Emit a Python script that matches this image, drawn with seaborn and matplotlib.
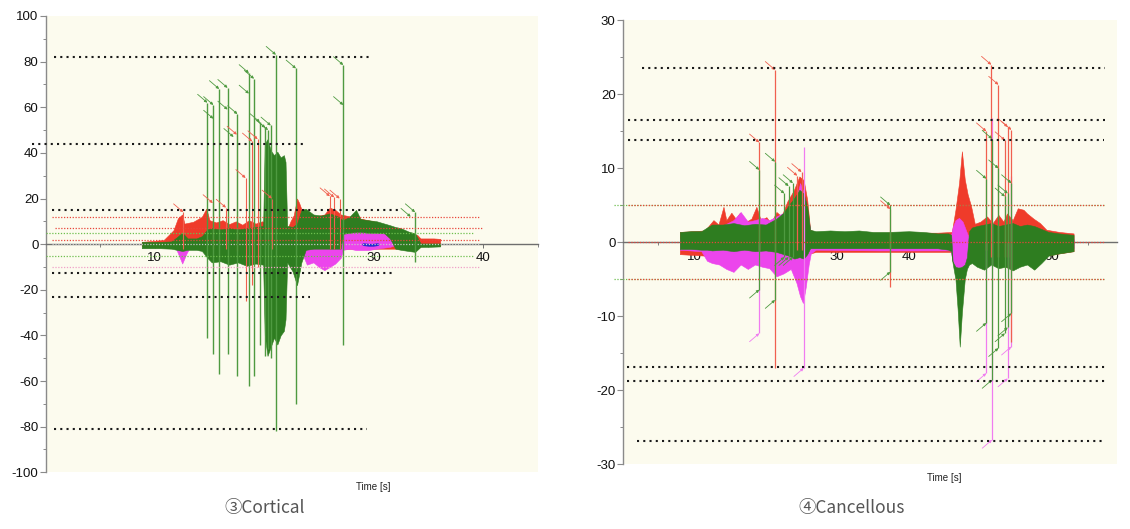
import matplotlib

matplotlib.use("Agg")

import matplotlib.pyplot as plt
import pandas as pd
import seaborn as sns
from matplotlib.ticker import MultipleLocator, FixedLocator

sns.set_theme(style="white")
plt.rcParams["font.family"] = ["Liberation Sans", "DejaVu Sans"]
plt.rcParams["axes.unicode_minus"] = False

# ---------------- ③ Cortical (left) ----------------
CORT_GRN_T = [8.8, 10.5, 11.5, 12.0, 12.5, 13.0, 13.8, 14.3, 14.8, 15.2, 16.0, 16.8, 17.6, 18.4, 19.2, 19.9,
              20.05, 20.3, 20.6, 20.9, 21.2, 21.5, 21.8, 21.95, 22.1, 22.6, 23.0, 23.4, 23.8, 24.5, 25.2, 26.0,
              26.8, 27.0, 27.2, 27.8, 28.4, 28.8, 29.5, 30.3, 31.0, 31.5, 32.0, 32.5, 33.2, 33.8, 34.3, 35.0, 36.1]
CORT_GRN_HI = [1.0, 1.0, 1.2, 3.0, 5.0, 2.5, 2.5, 3.5, 6.5, 7.0, 6.5, 7.0, 6.5, 7.0, 7.5, 8.0,
               44.0, 46.0, 41.0, 39.0, 40.5, 38.0, 39.0, 36.0, 8.0, 7.5, 9.0, 15.0, 15.5, 13.0, 12.5, 13.5,
               12.0, 11.0, 10.5, 12.0, 15.0, 11.0, 10.5, 10.0, 9.0, 8.3, 7.5, 7.0, 5.5, 4.7, 0.3, 0.3, 0.3]
CORT_GRN_LO = [-1.8, -1.8, -2.0, -2.5, -3.0, -2.5, -2.5, -3.0, -6.0, -8.0, -7.5, -9.0, -8.0, -9.5, -8.5, -9.0,
               -40.0, -49.0, -45.0, -41.0, -44.0, -40.0, -38.0, -33.0, -8.0, -12.0, -18.0, -8.0, -2.5, -2.0, -2.0, -2.0,
               -2.0, -2.0, 4.5, 5.0, 5.4, 5.4, 5.0, 5.0, 4.7, 2.5, -2.0, -2.5, -3.0, -3.4, -1.2, -1.2, -1.0]

CORT_RED_T = [8.8, 10.8, 11.7, 12.1, 12.5, 12.7, 13.5, 14.3, 14.7, 15.0, 15.6, 16.2, 16.8, 17.4, 18.0, 18.6,
              19.2, 19.8, 20.4, 21.5, 22.0, 22.4, 22.7, 23.0, 23.2, 23.5, 24.5, 25.5, 26.0, 26.5, 27.0, 28.0,
              30.0, 32.0, 34.0, 34.3, 35.5, 36.1]
CORT_RED_HI = [1.0, 1.8, 6.1, 11.3, 13.0, 9.0, 9.8, 12.0, 15.6, 10.5, 9.5, 10.5, 8.8, 10.0, 8.5, 10.5,
               9.0, 10.0, 9.0, 9.0, 5.0, 10.0, 12.7, 20.0, 18.0, 14.0, 12.0, 13.0, 16.0, 15.0, 13.0, 12.0,
               10.0, 7.0, 4.0, 2.5, 2.5, 2.3]
CORT_RED_LO = [-1.0, -1.0, -1.2, -1.5, -2.0, -2.0, -1.5, -1.5, -2.0, -2.0, -2.0, -2.0, -2.0, -2.0, -2.0, -2.0,
               -2.0, -2.0, -2.0, -2.0, -3.0, -4.0, -5.0, -6.0, -5.0, -3.0, -2.0, -2.0, -2.0, -2.0, -2.0, -2.0,
               -2.0, -2.0, -2.0, -1.0, -0.8, -0.8]

CORT_MAG_T = [11.8, 12.2, 12.5, 12.9, 13.3, 22.6, 23.3, 23.9, 24.5, 25.0, 25.5, 26.0, 26.5, 27.0, 27.2, 27.8,
              28.4, 29.5, 30.3, 31.0, 31.5, 31.9]
CORT_MAG_HI = [0.5, 3.0, 2.5, 1.5, 0.5, 0.5, 0.5, 0.5, 0.5, 0.5, 0.5, 0.5, 0.5, 1.0, 5.0, 5.0,
               5.4, 5.4, 5.2, 4.8, 2.5, 0.5]
CORT_MAG_LO = [-0.5, -5.0, -8.5, -4.0, -0.5, -1.0, -2.0, -9.0, -8.0, -10.0, -11.4, -10.0, -8.5, -6.0, -2.5, -2.0,
               -2.6, -2.6, -2.0, -1.5, -1.2, -0.5]

CORT_BLUE_T = [29.1, 29.6, 30.0, 30.4]
CORT_BLUE_Y = [-0.2, -0.5, -0.5, -0.2]

CORT_GSPK_X = [14.8, 15.35, 15.88, 16.65, 17.55, 18.6, 19.07, 19.6, 20.1, 20.35, 20.6, 21.07, 22.9, 27.23, 33.8]
CORT_GSPK_TOP = [62, 61, 68, 68.5, 57, 75, 72.5, 53.5, 51, 50, 52, 83, 77, 78.5, 14]
CORT_GSPK_BOT = [-41, -48, -57, -48, -58, -62, -58, -44, -49, -46, -50, -82, -70, -44, -7.7]
CORT_GMID_X = [15.35, 16.65, 17.2, 18.6, 27.23, 33.4]
CORT_GMID_Y = [55, 59, 47, 66, 61, 12]

CORT_RSPK_X = [12.6, 15.3, 16.5, 17.5, 18.3, 18.9, 19.4, 20.7, 26.0, 26.4, 26.9]
CORT_RSPK_TOP = [14, 18, 16, 48, 29, 45, 46, 20, 21, 20.5, 20]
CORT_RSPK_BOT = [-2, -2, -2, -3, -25, -18, -10, -2, -2, -2, -2]

CORT_BLACK_Y = [82, 44, 15, -12.5, -23, -81]
CORT_BLACK_X0 = [0.8, -1.2, 0.6, 0.6, 0.6, 0.8]
CORT_BLACK_X1 = [29.6, 23.6, 32.2, 31.7, 24.2, 29.4]
CORT_RED_LEVELS = [12, 7, 1.8]
CORT_RED_X0 = [0.6, 0.9, 0.6]
CORT_RED_X1 = [39.6, 40.0, 39.7]
CORT_GRN_LEVELS = [4.7, -5.0]
CORT_PINK_LEVELS = [-10.0]

# ---------------- ④ Cancellous (right) ----------------
CANC_GRN_T = [8.0, 9.5, 11.0, 11.8, 12.5, 14.0, 15.5, 17.0, 18.5, 20.0, 21.5, 22.5, 23.2, 24.0, 24.7, 25.3,
              25.8, 26.2, 27.0, 29.0, 31.0, 33.0, 35.0, 37.0, 40.0, 42.0, 44.0, 45.5, 45.9, 46.1, 46.5, 46.8,
              47.1, 47.4, 47.8, 48.1, 48.4, 48.8, 49.5, 50.5, 51.5, 52.5, 53.5, 54.5, 55.5, 56.5, 57.5, 58.5,
              59.5, 61.0, 63.0]
CANC_GRN_HI = [1.4, 1.5, 1.5, 2.0, 2.4, 2.4, 2.6, 2.3, 2.5, 2.4, 3.2, 4.0, 5.0, 6.0, 7.1, 6.6,
               4.8, 1.7, 1.5, 1.6, 1.5, 1.6, 1.4, 1.4, 1.5, 1.4, 1.2, 1.2, 1.0, -2.6, -3.3, -3.4,
               -3.4, -3.3, -3.0, -2.0, 1.5, 2.0, 2.2, 2.4, 2.6, 2.2, 2.4, 2.6, 2.2, 2.4, 2.2, 1.8,
               1.4, 1.2, 1.0]
CANC_GRN_LO = [-0.9, -0.9, -1.0, -1.0, -1.1, -1.0, -1.2, -1.0, -1.2, -1.1, -1.3, -1.6, -1.8, -2.2, -2.0, -2.2,
               -1.6, -0.8, -0.8, -0.8, -0.8, -0.8, -0.8, -0.8, -0.8, -0.8, -0.8, -1.0, -1.2, -2.8, -5.0, -9.0,
               -14.1, -9.5, -5.0, -3.6, -3.0, -2.8, -3.3, -3.7, -3.0, -3.5, -3.3, -3.8, -3.3, -3.0, -3.7, -2.8,
               -1.8, -1.5, -1.2]

CANC_RED_T = [8.0, 11.5, 12.7, 13.4, 14.1, 14.5, 15.2, 15.8, 16.4, 17.3, 18.0, 18.7, 19.3, 20.1, 20.7, 21.5,
              22.2, 23.0, 23.9, 24.7, 25.3, 25.8, 26.2, 27.0, 36.0, 44.0, 46.0, 46.5, 47.0, 47.4, 47.8, 48.2,
              48.7, 49.2, 50.0, 50.9, 51.7, 52.5, 53.2, 53.7, 54.5, 55.2, 56.0, 56.5, 57.4, 58.3, 59.2, 61.0, 63.0]
CANC_RED_HI = [1.4, 1.6, 3.0, 2.4, 4.8, 3.0, 4.0, 3.2, 4.0, 2.8, 3.2, 4.8, 3.0, 3.4, 2.6, 4.1,
               3.5, 5.5, 7.0, 8.9, 8.4, 5.7, 1.7, 1.3, 1.3, 1.3, 1.4, 4.4, 8.0, 12.3, 8.5, 6.5,
               4.8, 2.5, 2.8, 3.5, 2.6, 3.7, 2.8, 3.9, 3.0, 4.6, 4.4, 3.9, 3.2, 2.6, 1.7, 1.4, 1.2]
CANC_RED_LO = [-1.6, -1.8, -2.2, -2.4, -2.6, -2.4, -2.4, -2.2, -2.5, -2.2, -2.4, -2.6, -2.4, -3.0, -2.6, -3.2,
               -3.0, -3.0, -3.0, -3.5, -3.0, -2.5, -1.5, -1.3, -1.3, -1.3, -1.3, -1.5, -1.5, -1.5, -1.5, -1.5,
               -2.0, -2.5, -3.0, -3.2, -2.8, -3.0, -3.0, -3.4, -2.8, -3.3, -3.0, -2.6, -3.0, -2.4, -1.8, -1.5, -1.2]

CANC_MAG_T = [8.0, 11.0, 11.8, 12.5, 13.5, 14.5, 15.5, 16.5, 17.5, 18.5, 19.5, 20.5, 21.5, 22.5, 23.5, 24.3,
              24.8, 25.2, 25.6, 26.0, 26.3, 27.0, 36.0, 45.8, 46.1, 46.5, 47.0, 47.5, 47.9, 48.3, 48.8, 50.0,
              55.0, 58.0, 63.0]
CANC_MAG_HI = [0.5, 0.8, 1.8, 2.1, 2.0, 2.5, 3.0, 4.1, 2.8, 3.0, 3.3, 3.0, 3.5, 4.0, 4.5, 6.0,
               8.0, 7.0, 5.0, 3.0, 1.0, 0.5, 0.5, 0.5, 2.0, 3.0, 3.3, 2.8, 1.8, 0.8, 0.5, 0.5,
               0.5, 0.5, 0.5]
CANC_MAG_LO = [-1.0, -1.2, -2.5, -2.8, -3.0, -3.6, -4.0, -3.0, -3.6, -3.0, -3.3, -3.5, -4.6, -4.2, -3.6, -5.5,
               -7.3, -8.2, -6.0, -3.0, -1.5, -1.0, -1.1, -1.1, -2.5, -3.3, -3.4, -3.3, -3.0, -1.5, -0.8, -1.0,
               -1.2, -1.0, -0.8]

CANC_GSPK_X = [19.1, 21.3, 22.6, 23.2, 23.8, 37.4, 50.8, 51.6, 52.5, 53.4, 53.8, 54.3]
CANC_GSPK_TOP = [9.8, 10.9, 6.6, 7.6, 8.0, 5.0, 8.6, 14.0, 10.0, 6.2, 6.6, 8.0]
CANC_GSPK_BOT = [-6.4, -7.8, -2.0, -2.0, -2.0, -4.0, -10.9, -18.6, -14.3, -12.3, -11.5, -9.6]
CANC_RSPK_X = [19.1, 21.3, 24.4, 25.0, 37.4, 50.8, 51.5, 52.5, 53.4, 53.8, 54.3]
CANC_RSPK_TOP = [13.5, 23.3, 9.0, 9.5, 4.5, 15.0, 24.0, 21.3, 13.8, 15.6, 15.2]
CANC_RSPK_BOT = [-1.0, -17.0, -1.0, -1.0, -6.0, -1.0, -2.0, -2.0, -2.0, -2.0, -13.5]
CANC_MSPK_X = [19.1, 25.3, 50.8, 51.6, 53.8, 54.3]
CANC_MSPK_TOP = [0.0, 12.9, 0.0, 16.8, 0.0, 8.9]
CANC_MSPK_BOT = [-12.3, -17.0, -17.7, -26.7, -18.4, -14.1]

CANC_BLACK_Y = [23.6, 16.5, 13.8, -16.9, -18.7, -26.9]
CANC_BLACK_X0 = [2.75, 0.8, 0.8, 0.6, 0.6, 2.0]
CANC_BLACK_X1 = [67.4, 67.4, 67.2, 67.4, 67.4, 67.4]
CANC_RED_LEVELS = [5, 0, -5]
CANC_GRN_LEVELS = [5, -5]

GREEN = "#2E7D20"
GREEN_SPK = "#4E9A40"
RED = "#EF3B2A"
RED_SPK = "#F0604F"
MAG = "#EC45EC"
MAG_SPK = "#F07CF0"
BG = "#FCFBEE"


def style_axes(ax, xmax, ymax, ymajor, yminor, xticks):
    ax.set_facecolor(BG)
    ax.set_xlim(0, xmax)
    ax.set_ylim(-ymax, ymax)
    for side in ("top", "right"):
        ax.spines[side].set_visible(False)
    ax.spines["bottom"].set_position(("data", 0))
    ax.spines["bottom"].set_color("#6E6E6E")
    ax.spines["left"].set_color("#8A8A8A")
    ax.spines["bottom"].set_linewidth(1.0)
    ax.spines["left"].set_linewidth(1.0)
    ax.yaxis.set_major_locator(MultipleLocator(ymajor))
    ax.yaxis.set_minor_locator(MultipleLocator(yminor))
    ax.xaxis.set_major_locator(FixedLocator(xticks))
    ax.xaxis.set_minor_locator(MultipleLocator(5))
    ax.tick_params(axis="y", which="major", length=4, width=0.8, color="#8A8A8A", labelsize=9.5, pad=1,
                   left=True, labelcolor="#111111")
    ax.tick_params(axis="y", which="minor", length=2.5, width=0.7, color="#8A8A8A", left=True)
    ax.tick_params(axis="x", which="major", length=3, width=0.7, color="#6E6E6E", labelsize=9.5, pad=3,
                   bottom=True, labelcolor="#111111")
    ax.tick_params(axis="x", which="minor", length=2, width=0.6, color="#6E6E6E", bottom=True)
    ax.set_axisbelow(True)
    ax.grid(False)


def hlines(ax, ys, x0, x1, color, lw, dashes, z=2):
    for y, a, b in zip(ys, x0, x1):
        ax.plot([a, b], [y, y], color=color, lw=lw, dashes=dashes, zorder=z, clip_on=False)


def band(ax, t, lo, hi, color, z):
    ax.fill_between(t, lo, hi, color=color, lw=0.4, edgecolor=color, zorder=z)


def spikes(ax, xs, tops, bots, color, z, lw=0.9):
    ax.vlines(xs, bots, tops, color=color, lw=lw, zorder=z)


def arrows(ax, xs, ys, color, dx=-7, dy=6):
    for x, y in zip(xs, ys):
        ax.annotate("", xy=(x, y), xytext=(dx, dy), textcoords="offset points", zorder=8,
                    arrowprops=dict(arrowstyle="-|>", color=color, lw=0.6, mutation_scale=4,
                                    shrinkA=0, shrinkB=0))


fig = plt.figure(figsize=(11.3, 5.29), dpi=100)
fig.patch.set_facecolor("white")
ax1 = fig.add_axes([0.0403, 0.1072, 0.4354, 0.8626])
ax2 = fig.add_axes([0.5509, 0.1223, 0.4372, 0.8393])

# ---- left panel ----
style_axes(ax1, 45, 100, 20, 10, [10, 20, 30, 40])
hlines(ax1, CORT_BLACK_Y, CORT_BLACK_X0, CORT_BLACK_X1, "#1A1A1A", 1.5, (1, 2), z=9)
hlines(ax1, CORT_RED_LEVELS, CORT_RED_X0, CORT_RED_X1, "#E8453A", 0.9, (1, 1.3), z=9)
hlines(ax1, CORT_GRN_LEVELS, [0.0] * 2, [39.1] * 2, "#6DBE4E", 0.9, (1, 1.3), z=9)
hlines(ax1, CORT_PINK_LEVELS, [0.6], [39.7], "#F0A0C8", 0.9, (1, 1.3), z=9)

band(ax1, CORT_RED_T, CORT_RED_LO, CORT_RED_HI, RED, 3)
band(ax1, CORT_MAG_T, CORT_MAG_LO, CORT_MAG_HI, MAG, 4)
band(ax1, CORT_GRN_T, CORT_GRN_LO, CORT_GRN_HI, GREEN, 5)
blue = pd.DataFrame({"t": CORT_BLUE_T, "y": CORT_BLUE_Y})
sns.lineplot(data=blue, x="t", y="y", ax=ax1, color="#1F2BD0", lw=2.0, zorder=6)
hlines(ax1, [0], [0.6], [39.7], "#C8C8C8", 0.9, (1, 1.3), z=6)

spikes(ax1, CORT_RSPK_X, CORT_RSPK_TOP, CORT_RSPK_BOT, RED_SPK, 6, lw=0.8)
spikes(ax1, CORT_GSPK_X, CORT_GSPK_TOP, CORT_GSPK_BOT, GREEN_SPK, 7, lw=1.0)
arrows(ax1, CORT_RSPK_X, CORT_RSPK_TOP, RED_SPK)
arrows(ax1, CORT_GSPK_X, CORT_GSPK_TOP, GREEN_SPK)
arrows(ax1, CORT_GMID_X, CORT_GMID_Y, GREEN_SPK)
ax1.set_xlabel("")
ax1.set_ylabel("")

# ---- right panel ----
style_axes(ax2, 69, 30, 10, 5, [10, 20, 30, 40, 50, 60])
hlines(ax2, CANC_BLACK_Y, CANC_BLACK_X0, CANC_BLACK_X1, "#1A1A1A", 1.5, (1, 2), z=9)
hlines(ax2, CANC_GRN_LEVELS, [-1.2] * 2, [67.4] * 2, "#6DBE4E", 0.9, (1, 1.3), z=8)
hlines(ax2, CANC_RED_LEVELS, [0.8] * 3, [67.4] * 3, "#E8453A", 0.9, (1, 1.3), z=9)

band(ax2, CANC_RED_T, CANC_RED_LO, CANC_RED_HI, RED, 3)
band(ax2, CANC_MAG_T, CANC_MAG_LO, CANC_MAG_HI, MAG, 4)
band(ax2, CANC_GRN_T, CANC_GRN_LO, CANC_GRN_HI, GREEN, 5)

spikes(ax2, CANC_MSPK_X, CANC_MSPK_TOP, CANC_MSPK_BOT, MAG_SPK, 6, lw=0.9)
spikes(ax2, CANC_RSPK_X, CANC_RSPK_TOP, CANC_RSPK_BOT, RED_SPK, 6.5, lw=0.9)
spikes(ax2, CANC_GSPK_X, CANC_GSPK_TOP, CANC_GSPK_BOT, GREEN_SPK, 7, lw=0.9)
arrows(ax2, CANC_RSPK_X, CANC_RSPK_TOP, RED_SPK)
arrows(ax2, CANC_GSPK_X, CANC_GSPK_TOP, GREEN_SPK)
arrows(ax2, CANC_GSPK_X, CANC_GSPK_BOT, GREEN_SPK, dx=-7, dy=-6)
arrows(ax2, CANC_MSPK_X, CANC_MSPK_BOT, MAG_SPK, dx=-7, dy=-6)
ax2.set_xlabel("")
ax2.set_ylabel("")

# axis titles and captions
fig.text(373 / 1130, 1 - 487 / 529, "Time [s]", fontsize=7, color="#222222", ha="center", va="center")
fig.text(944 / 1130, 1 - 478 / 529, "Time [s]", fontsize=7, color="#222222", ha="center", va="center")
fig.text(265 / 1130, 1 - 508 / 529, "③Cortical", fontsize=12.5, color="#555555", ha="center", va="center",
         family=["Noto Sans CJK JP", "DejaVu Sans"])
fig.text(852 / 1130, 1 - 508 / 529, "④Cancellous", fontsize=12.5, color="#555555", ha="center", va="center",
         family=["Noto Sans CJK JP", "DejaVu Sans"])

fig.savefig("out.png", dpi=100, facecolor="white")
